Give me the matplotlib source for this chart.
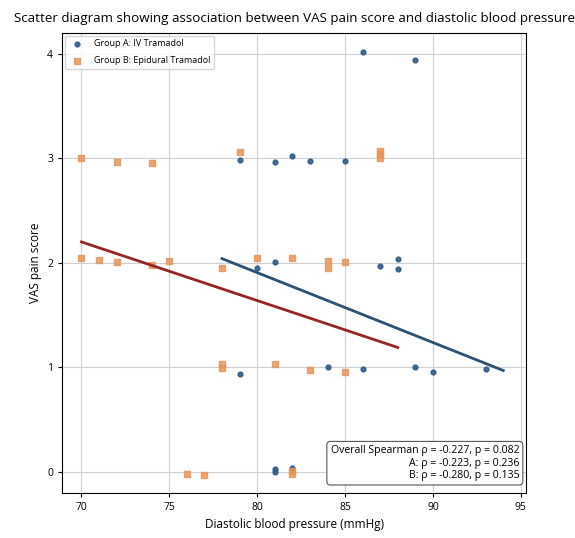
import matplotlib
matplotlib.use("Agg")
import matplotlib.pyplot as plt

plt.rcParams['font.family'] = ['Open Sans', 'DejaVu Sans']

# Group A: IV Tramadol (blue circles)
dbp_a = [86, 89, 79, 81, 82, 83, 85, 80, 81, 87, 88, 88,
         79, 84, 86, 89, 90, 93, 81, 81, 82, 82]
vas_a = [4.02, 3.94, 2.98, 2.96, 3.02, 2.97, 2.97, 1.95, 2.01, 1.97, 2.04, 1.94,
         0.94, 1.00, 0.98, 1.00, 0.96, 0.98, 0.03, 0.00, 0.04, 0.01]

# Group B: Epidural Tramadol (orange squares)
dbp_b = [70, 72, 74, 79, 87, 87, 87,
         70, 71, 72, 74, 75, 78, 80, 82, 84, 84, 85,
         78, 78, 81, 83, 85,
         76, 77, 82, 82]
vas_b = [3.00, 2.96, 2.95, 3.06, 3.00, 3.04, 3.07,
         2.05, 2.03, 2.01, 1.98, 2.02, 1.95, 2.05, 2.05, 2.02, 1.95, 2.01,
         1.03, 0.99, 1.03, 0.97, 0.96,
         -0.02, -0.03, -0.02, 0.01]

# fitted trend lines (end points)
fit_a_x = [78, 94]
fit_a_y = [2.04, 0.97]
fit_b_x = [70, 88]
fit_b_y = [2.20, 1.19]

stats_text = ("Overall Spearman \u03c1 = -0.227, p = 0.082\n"
              "A: \u03c1 = -0.223, p = 0.236\n"
              "B: \u03c1 = -0.280, p = 0.135")

fig = plt.figure(figsize=(5.75, 5.38), dpi=100)
ax = fig.add_axes([0.108, 0.084, 0.807, 0.855])

ax.scatter(dbp_a, vas_a, marker='o', s=12, color='#2f5b85', alpha=0.9,
           label='Group A: IV Tramadol', zorder=3)
ax.scatter(dbp_b, vas_b, marker='s', s=13, color='#e8955a', alpha=0.85,
           label='Group B: Epidural Tramadol', zorder=3)
ax.plot(fit_a_x, fit_a_y, color='#2b5275', linewidth=2, zorder=4)
ax.plot(fit_b_x, fit_b_y, color='#962626', linewidth=2, zorder=4)

ax.set_xlim(68.9, 95.3)
ax.set_ylim(-0.2, 4.2)
ax.set_xticks([70, 75, 80, 85, 90, 95])
ax.set_yticks([0, 1, 2, 3, 4])
ax.tick_params(labelsize=7.5, length=3)
ax.grid(True, color='#d0d0d0', linewidth=0.8)
ax.set_axisbelow(True)

ax.set_xlabel("Diastolic blood pressure (mmHg)", fontsize=8.5)
ax.set_ylabel("VAS pain score", fontsize=8.5)
ax.set_title("Scatter diagram showing association between VAS pain score and diastolic blood pressure",
             fontsize=9.6, pad=8)

ax.legend(loc='upper left', fontsize=6.5, frameon=True, borderaxespad=0.3,
          handletextpad=0.8, labelspacing=0.9, markerscale=1.0)

ax.text(0.985, 0.025, stats_text, transform=ax.transAxes, ha='right', va='bottom',
        fontsize=7.6, multialignment='right',
        bbox=dict(boxstyle='round,pad=0.35', facecolor='white', edgecolor='#555555', linewidth=0.8))

fig.savefig("out.png", dpi=100)
